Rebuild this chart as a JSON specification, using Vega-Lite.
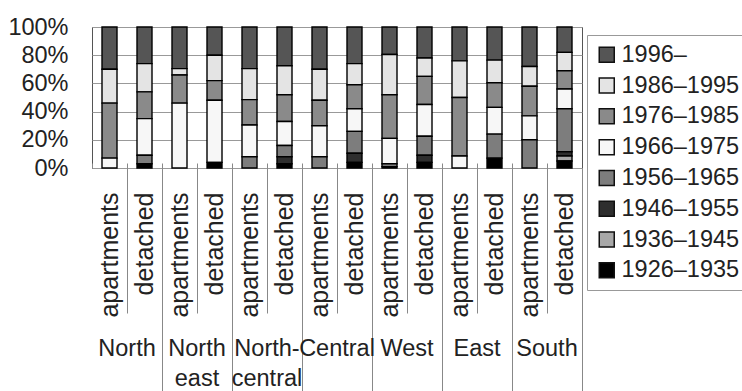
{
  "$schema": "https://vega.github.io/schema/vega-lite/v6.json",
  "autosize": {"type": "none"},
  "padding": {"left": 92, "top": 27, "right": 160, "bottom": 223},
  "width": 490,
  "height": 141,
  "background": "white",
  "config": {
    "font": "Liberation Sans",
    "view": {"stroke": "#555", "strokeWidth": 1},
    "axis": {"labelFont": "Liberation Sans", "labelFontSize": 23.5, "labelColor": "#222", "title": null}
  },
  "data": {
    "values": [
      {"bar": "North|apartments", "period": "1996–", "share": 30},
      {"bar": "North|apartments", "period": "1986–1995", "share": 24},
      {"bar": "North|apartments", "period": "1976–1985", "share": 39},
      {"bar": "North|apartments", "period": "1966–1975", "share": 7},
      {"bar": "North|detached", "period": "1996–", "share": 26},
      {"bar": "North|detached", "period": "1986–1995", "share": 20},
      {"bar": "North|detached", "period": "1976–1985", "share": 19},
      {"bar": "North|detached", "period": "1966–1975", "share": 26},
      {"bar": "North|detached", "period": "1956–1965", "share": 6},
      {"bar": "North|detached", "period": "1926–1935", "share": 3},
      {"bar": "North east|apartments", "period": "1996–", "share": 29.5},
      {"bar": "North east|apartments", "period": "1986–1995", "share": 4.5},
      {"bar": "North east|apartments", "period": "1976–1985", "share": 20},
      {"bar": "North east|apartments", "period": "1966–1975", "share": 46},
      {"bar": "North east|detached", "period": "1996–", "share": 20},
      {"bar": "North east|detached", "period": "1986–1995", "share": 18},
      {"bar": "North east|detached", "period": "1976–1985", "share": 14},
      {"bar": "North east|detached", "period": "1966–1975", "share": 44},
      {"bar": "North east|detached", "period": "1926–1935", "share": 4},
      {"bar": "North-central|apartments", "period": "1996–", "share": 29.5},
      {"bar": "North-central|apartments", "period": "1986–1995", "share": 22},
      {"bar": "North-central|apartments", "period": "1976–1985", "share": 18},
      {"bar": "North-central|apartments", "period": "1966–1975", "share": 22.5},
      {"bar": "North-central|apartments", "period": "1956–1965", "share": 8},
      {"bar": "North-central|detached", "period": "1996–", "share": 27.5},
      {"bar": "North-central|detached", "period": "1986–1995", "share": 20.5},
      {"bar": "North-central|detached", "period": "1976–1985", "share": 19},
      {"bar": "North-central|detached", "period": "1966–1975", "share": 17},
      {"bar": "North-central|detached", "period": "1956–1965", "share": 8},
      {"bar": "North-central|detached", "period": "1946–1955", "share": 5},
      {"bar": "North-central|detached", "period": "1926–1935", "share": 3},
      {"bar": "Central|apartments", "period": "1996–", "share": 30},
      {"bar": "Central|apartments", "period": "1986–1995", "share": 22},
      {"bar": "Central|apartments", "period": "1976–1985", "share": 18},
      {"bar": "Central|apartments", "period": "1966–1975", "share": 22},
      {"bar": "Central|apartments", "period": "1956–1965", "share": 8},
      {"bar": "Central|detached", "period": "1996–", "share": 26},
      {"bar": "Central|detached", "period": "1986–1995", "share": 15},
      {"bar": "Central|detached", "period": "1976–1985", "share": 17},
      {"bar": "Central|detached", "period": "1966–1975", "share": 16},
      {"bar": "Central|detached", "period": "1956–1965", "share": 15.5},
      {"bar": "Central|detached", "period": "1946–1955", "share": 6.5},
      {"bar": "Central|detached", "period": "1926–1935", "share": 4},
      {"bar": "West|apartments", "period": "1996–", "share": 19.5},
      {"bar": "West|apartments", "period": "1986–1995", "share": 28.5},
      {"bar": "West|apartments", "period": "1976–1985", "share": 31},
      {"bar": "West|apartments", "period": "1966–1975", "share": 18},
      {"bar": "West|apartments", "period": "1956–1965", "share": 2},
      {"bar": "West|apartments", "period": "1926–1935", "share": 1},
      {"bar": "West|detached", "period": "1996–", "share": 22},
      {"bar": "West|detached", "period": "1986–1995", "share": 13},
      {"bar": "West|detached", "period": "1976–1985", "share": 20},
      {"bar": "West|detached", "period": "1966–1975", "share": 22.5},
      {"bar": "West|detached", "period": "1956–1965", "share": 13.5},
      {"bar": "West|detached", "period": "1946–1955", "share": 5},
      {"bar": "West|detached", "period": "1926–1935", "share": 4},
      {"bar": "East|apartments", "period": "1996–", "share": 24},
      {"bar": "East|apartments", "period": "1986–1995", "share": 26},
      {"bar": "East|apartments", "period": "1976–1985", "share": 41.5},
      {"bar": "East|apartments", "period": "1966–1975", "share": 8.5},
      {"bar": "East|detached", "period": "1996–", "share": 23.5},
      {"bar": "East|detached", "period": "1986–1995", "share": 16},
      {"bar": "East|detached", "period": "1976–1985", "share": 17.5},
      {"bar": "East|detached", "period": "1966–1975", "share": 19},
      {"bar": "East|detached", "period": "1956–1965", "share": 17},
      {"bar": "East|detached", "period": "1926–1935", "share": 7},
      {"bar": "South|apartments", "period": "1996–", "share": 28},
      {"bar": "South|apartments", "period": "1986–1995", "share": 14},
      {"bar": "South|apartments", "period": "1976–1985", "share": 21},
      {"bar": "South|apartments", "period": "1966–1975", "share": 17},
      {"bar": "South|apartments", "period": "1956–1965", "share": 20},
      {"bar": "South|detached", "period": "1996–", "share": 18},
      {"bar": "South|detached", "period": "1986–1995", "share": 13},
      {"bar": "South|detached", "period": "1976–1985", "share": 13},
      {"bar": "South|detached", "period": "1966–1975", "share": 14},
      {"bar": "South|detached", "period": "1956–1965", "share": 30.5},
      {"bar": "South|detached", "period": "1946–1955", "share": 3},
      {"bar": "South|detached", "period": "1936–1945", "share": 3.5},
      {"bar": "South|detached", "period": "1926–1935", "share": 5}
    ]
  },
  "layer": [
    {
      "mark": {"type": "bar", "width": 15, "stroke": "#000", "strokeWidth": 1.4},
      "encoding": {
        "x": {
          "field": "bar", "type": "nominal", "sort": null,
          "scale": {"paddingInner": 0, "paddingOuter": 0},
          "axis": {
            "orient": "bottom",
            "labelExpr": "split(datum.value, '|')[1]",
            "labelFontSize": 25,
            "labelAngle": -90, "labelAlign": "right", "labelBaseline": "middle",
            "labelPadding": 24, "ticks": false, "domain": false
          }
        },
        "y": {
          "field": "share", "type": "quantitative", "stack": "normalize",
          "axis": {
            "format": ".0%", "values": [0, 0.2, 0.4, 0.6, 0.8, 1],
            "grid": true, "gridColor": "#999", "gridWidth": 1,
            "ticks": false, "domain": false, "labelPadding": 24
          }
        },
        "color": {
          "field": "period", "type": "nominal",
          "scale": {
            "domain": ["1996–", "1986–1995", "1976–1985", "1966–1975", "1956–1965", "1946–1955", "1936–1945", "1926–1935"],
            "range": ["#555555", "#e4e4e4", "#8a8a8a", "#f7f7f7", "#7d7d7d", "#2e2e2e", "#a8a8a8", "#000000"]
          },
          "legend": {
            "title": null, "orient": "none", "legendX": 495, "legendY": 8,
            "strokeColor": "#999", "fillColor": "white", "padding": 8,
            "symbolType": "square", "symbolSize": 225, "symbolStrokeColor": "#111", "symbolStrokeWidth": 1.5,
            "labelFont": "Liberation Sans", "labelFontSize": 23.5, "labelColor": "#222",
            "labelOffset": 3, "rowPadding": 5.8, "labelLimit": 200
          }
        },
        "order": {"field": "period", "sort": "ascending"}
      }
    },
    {
      "mark": {"type": "point", "opacity": 0},
      "encoding": {
        "x": {
          "field": "bar", "type": "nominal", "sort": null,
          "axis": {
            "orient": "bottom",
            "values": ["North|detached", "North east|detached", "North-central|detached", "Central|detached", "West|detached", "East|detached", "South|detached"],
            "bandPosition": 0, "tickSize": 145, "tickColor": "#888", "tickWidth": 1,
            "labels": false, "domain": false
          }
        }
      }
    },
    {
      "mark": {"type": "point", "opacity": 0},
      "encoding": {
        "x": {
          "field": "bar", "type": "nominal", "sort": null,
          "axis": {
            "orient": "bottom",
            "bandPosition": 0, "tickSize": -5, "tickColor": "#888", "tickWidth": 1,
            "labels": false, "domain": false
          }
        }
      }
    },
    {
      "mark": {"type": "point", "opacity": 0},
      "encoding": {
        "x": {
          "field": "bar", "type": "nominal", "sort": null,
          "axis": {
            "orient": "bottom",
            "values": ["North|detached", "North east|detached", "North-central|detached", "Central|detached", "West|detached", "East|detached", "South|detached"],
            "bandPosition": 1, "tickSize": 230, "tickColor": "#888", "tickWidth": 1,
            "domain": false, "labelAngle": 0, "labelAlign": "center", "labelBaseline": "top",
            "labelOffset": -17.5, "labelPadding": -62, "labelLineHeight": 30,
            "labelExpr": "datum.value == 'North east|detached' ? ['North', 'east'] : datum.value == 'North-central|detached' ? ['North-', 'central'] : split(datum.value, '|')[0]"
          }
        }
      }
    }
  ],
  "resolve": {"axis": {"x": "independent"}}
}
